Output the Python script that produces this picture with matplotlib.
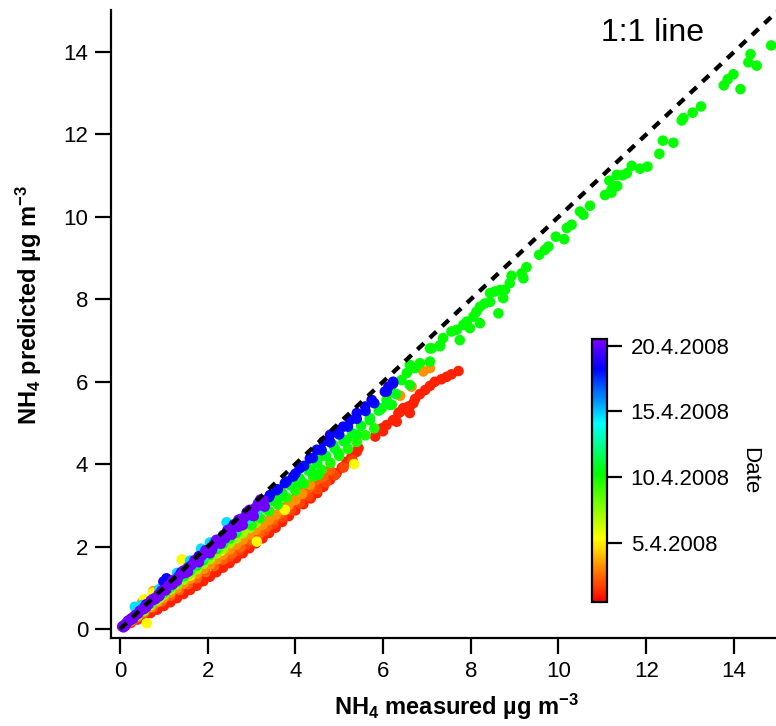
import numpy as np
import matplotlib
matplotlib.use("Agg")
import matplotlib.pyplot as plt
from matplotlib.colors import LinearSegmentedColormap, Normalize

plt.rcParams['font.family'] = ['Liberation Sans', 'DejaVu Sans']
plt.rcParams['mathtext.fontset'] = 'custom'
plt.rcParams['mathtext.rm'] = 'Liberation Sans:bold'
plt.rcParams['mathtext.it'] = 'Liberation Sans:bold'
plt.rcParams['mathtext.bf'] = 'Liberation Sans:bold'
plt.rcParams['mathtext.sf'] = 'Liberation Sans:bold'

# NH4 measured vs predicted (ug m-3), grouped by sampling day in April 2008
red_day = 1.2
red_meas = [0.10, 0.25, 0.40, 0.55, 0.70, 0.85, 1.00, 1.15, 1.30, 1.45, 1.60, 1.75, 1.90, 2.05,
            2.20, 2.35, 2.50, 2.65, 2.80, 2.95, 3.10, 3.25, 3.40, 3.55, 3.70, 3.85, 4.00, 4.18,
            4.35, 4.50, 4.64, 4.79, 4.94, 5.06, 5.17, 5.28, 5.40, 5.44, 5.82, 5.97, 6.00, 6.08,
            6.23, 6.31, 6.35, 6.39, 6.46, 6.58, 6.61, 6.61, 6.69, 6.73, 6.84, 6.96, 7.07, 7.18,
            7.33, 7.45, 7.56, 7.72]
red_pred = [0.07, 0.15, 0.23, 0.31, 0.39, 0.47, 0.56, 0.65, 0.75, 0.85, 0.95, 1.05, 1.16, 1.27,
            1.38, 1.49, 1.60, 1.72, 1.84, 1.96, 2.08, 2.20, 2.33, 2.46, 2.60, 2.74, 2.88, 3.03,
            3.17, 3.30, 3.45, 3.62, 3.78, 3.92, 4.06, 4.18, 4.30, 4.39, 4.67, 4.87, 4.80, 4.95,
            5.07, 5.03, 5.24, 5.27, 5.36, 5.40, 5.24, 5.40, 5.48, 5.58, 5.70, 5.80, 5.90, 6.00,
            6.06, 6.12, 6.18, 6.26]

red2_day = 1.8
red2_meas = [2.50, 2.70, 2.90, 3.10, 3.30, 3.50, 3.70, 3.90, 4.10, 4.30, 4.50, 4.70, 4.90,
             5.10, 5.30]
red2_pred = [1.75, 1.90, 2.06, 2.22, 2.38, 2.55, 2.71, 2.88, 3.05, 3.22, 3.39, 3.56, 3.73,
             3.92, 4.10]

redorange_day = 2.3
redorange_meas = [0.15, 0.35, 0.55, 0.75, 0.95, 1.15, 1.35, 1.55, 1.75, 1.95, 2.15, 2.35, 2.55,
                  2.75, 2.96, 3.19, 3.35, 3.50, 3.65, 3.80, 3.95, 4.07, 4.22, 4.33, 4.49, 4.64, 4.79]
redorange_pred = [0.10, 0.25, 0.39, 0.53, 0.67, 0.81, 0.95, 1.09, 1.23, 1.38, 1.53, 1.68, 1.83,
                  1.98, 2.16, 2.32, 2.48, 2.65, 2.81, 2.97, 3.13, 3.25, 3.37, 3.45, 3.62, 3.70, 3.86]

orange_day = 3.3
orange_meas = [0.10, 0.25, 0.40, 0.55, 0.70, 0.85, 1.00, 1.15, 1.30, 1.45, 1.60, 1.75, 1.90,
               2.05, 2.20, 2.35, 2.50, 2.65, 2.80, 2.95, 3.10, 3.25, 3.40, 3.55, 3.70, 3.85,
               4.00, 4.15, 4.33, 0.50, 0.76, 6.39, 6.65, 6.92, 7.07]
orange_pred = [0.08, 0.19, 0.30, 0.42, 0.53, 0.65, 0.76, 0.88, 0.99, 1.11, 1.22, 1.34, 1.46,
               1.57, 1.69, 1.81, 1.93, 2.05, 2.17, 2.29, 2.41, 2.53, 2.65, 2.77, 2.89, 3.01,
               3.13, 3.28, 3.50, 0.64, 0.92, 5.66, 5.88, 6.25, 6.33]

yellow_day = 5.2
yellow_meas = [0.30, 0.55, 0.75, 0.90, 1.60, 2.30, 0.61, 1.41, 3.12, 3.76, 5.34]
yellow_pred = [0.27, 0.72, 0.88, 0.76, 1.30, 1.90, 0.14, 1.69, 2.12, 2.89, 4.00]

lime_day = 7.3
lime_meas = [0.10, 0.25, 0.40, 0.55, 0.70, 0.85, 1.00, 1.15, 1.30, 1.45, 1.60, 1.75, 1.90,
             2.05, 2.20, 2.35, 2.50, 2.65, 2.80, 2.95, 3.10]
lime_pred = [0.08, 0.21, 0.33, 0.45, 0.58, 0.70, 0.83, 0.95, 1.08, 1.20, 1.33, 1.45, 1.58,
             1.70, 1.83, 1.95, 2.08, 2.20, 2.33, 2.45, 2.58]

green2_day = 9.8
green2_meas = [3.00, 3.20, 3.40, 3.60, 3.80, 4.00, 4.20, 4.40, 4.60, 4.80, 5.00, 5.20, 5.40,
               5.60, 5.80]
green2_pred = [2.52, 2.69, 2.86, 3.02, 3.19, 3.36, 3.53, 3.70, 3.86, 4.03, 4.20, 4.37, 4.54,
               4.70, 4.87]

green_day = 10.2
green_meas = [0.10, 0.25, 0.40, 0.55, 0.70, 0.85, 1.00, 1.15, 1.30, 1.45, 1.60, 1.75, 1.90,
              2.05, 2.20, 2.35, 2.50, 2.65, 2.89, 3.12,
              3.35, 3.57, 3.60, 3.80, 4.03, 4.10, 4.26, 4.35, 4.52, 4.56, 4.86, 4.98, 5.17,
              5.40, 5.70, 5.93, 5.97, 6.08, 6.16, 6.20, 6.20, 6.42, 6.54, 6.61, 6.61, 6.73,
              6.84, 7.07, 7.07, 7.11, 7.30, 7.30, 7.37, 7.56, 7.68, 7.75, 7.83, 7.91, 7.98,
              8.06, 8.13, 8.21, 8.21, 8.32, 8.44, 8.44, 8.55, 8.63, 8.67, 8.74, 8.78, 8.89,
              8.93, 9.16, 9.20, 9.27, 9.56, 9.69, 9.77, 9.94, 10.13, 10.19, 10.30, 10.49,
              10.57, 10.72, 11.06, 11.16, 11.21, 11.21, 11.33, 11.34, 11.46, 11.56, 11.67,
              11.86, 12.03, 12.30, 12.38, 12.62, 12.81, 12.85, 13.06, 13.25, 13.77, 13.86,
              13.99, 14.15, 14.33, 14.38, 14.52, 14.85]
green_pred = [0.09, 0.22, 0.35, 0.48, 0.62, 0.75, 0.88, 1.01, 1.14, 1.28, 1.41, 1.54, 1.67,
              1.80, 1.94, 2.07, 2.20, 2.33, 2.57, 2.81,
              3.05, 3.29, 3.15, 3.54, 3.70, 3.55, 3.94, 3.85, 3.74, 4.18, 4.47, 4.27, 4.59,
              4.71, 5.07, 5.32, 5.36, 5.56, 5.44, 5.76, 5.44, 6.04, 6.21, 5.92, 6.41, 6.33,
              6.45, 6.49, 6.81, 6.81, 6.86, 6.89, 7.06, 7.22, 7.26, 7.01, 7.38, 7.46, 7.30,
              7.58, 7.70, 7.82, 7.42, 7.90, 7.94, 8.15, 8.19, 7.66, 8.23, 8.03, 8.23, 8.39,
              8.57, 8.63, 8.51, 8.78, 9.08, 9.20, 9.28, 9.52, 9.46, 9.73, 9.81, 10.13,
              10.05, 10.27, 10.53, 10.88, 10.59, 10.66, 11.02, 10.75, 11.01, 11.06, 11.24,
              11.17, 11.22, 11.53, 11.85, 11.80, 12.34, 12.40, 12.53, 12.68, 13.19, 13.34,
              13.46, 13.10, 13.75, 13.95, 13.67, 14.16]

green3_day = 10.6
green3_meas = [3.10, 3.30, 3.50, 3.70, 3.90, 4.10, 4.30, 4.50, 4.70, 4.90, 5.10, 5.30, 5.50,
               5.70, 5.90, 6.10, 6.30]
green3_pred = [2.76, 2.94, 3.12, 3.30, 3.48, 3.66, 3.84, 4.02, 4.20, 4.38, 4.56, 4.75, 4.93,
               5.12, 5.30, 5.50, 5.70]

spring_day = 12.5
spring_meas = [0.10, 0.25, 0.40, 0.55, 0.70, 0.85, 1.00, 1.15, 1.30, 1.45, 1.60, 1.75, 1.90,
               2.05, 2.20, 2.35, 2.50, 2.65, 2.80, 2.95, 3.10, 3.25]
spring_pred = [0.09, 0.23, 0.36, 0.50, 0.64, 0.77, 0.91, 1.05, 1.18, 1.32, 1.46, 1.59, 1.73,
               1.87, 2.00, 2.14, 2.28, 2.41, 2.55, 2.68, 2.82, 2.96]

cyan_day = 14.6
cyan_meas = [0.10, 0.30, 0.50, 0.70, 0.90, 1.10, 1.30, 1.50, 1.70, 1.90, 2.10, 2.30, 2.50,
             2.70, 2.90, 3.10, 0.34, 0.50, 0.90, 1.30, 1.60, 1.85, 2.05, 2.43]
cyan_pred = [0.09, 0.28, 0.47, 0.65, 0.84, 1.03, 1.22, 1.40, 1.59, 1.78, 1.96, 2.15, 2.34,
             2.52, 2.71, 2.90, 0.54, 0.58, 0.97, 1.36, 1.66, 1.95, 2.10, 2.59]

azure_day = 16.5
azure_meas = [0.15, 0.35, 0.55, 0.75, 0.95, 1.15, 1.35, 1.55, 1.75, 1.95, 2.15, 2.35, 2.55,
              2.75, 2.95, 3.15]
azure_pred = [0.15, 0.34, 0.53, 0.73, 0.92, 1.12, 1.31, 1.50, 1.70, 1.89, 2.09, 2.28, 2.47,
              2.67, 2.86, 3.06]

blue2_day = 18.0
blue2_meas = [3.00, 3.20, 3.40, 3.60, 3.80, 4.00, 4.20, 4.40, 4.60, 4.80, 5.00, 5.20, 5.40,
              5.60, 5.80]
blue2_pred = [2.83, 3.01, 3.20, 3.39, 3.58, 3.77, 3.96, 4.15, 4.34, 4.53, 4.72, 4.91, 5.10,
              5.29, 5.48]

blue_day = 18.4
blue_meas = [0.25, 0.60, 0.99, 1.06, 1.40, 1.80, 2.20, 2.60, 2.89, 3.19, 3.42, 3.57, 3.76,
             3.95, 4.10, 4.33, 4.49, 4.64, 4.79, 4.94, 5.09, 5.25, 5.40, 5.59, 5.74, 6.04,
             6.08, 6.12, 6.23, 6.23]
blue_pred = [0.25, 0.60, 1.15, 1.23, 1.38, 1.77, 2.16, 2.54, 2.83, 3.05, 3.25, 3.37, 3.54,
             3.70, 3.90, 4.14, 4.35, 4.55, 4.71, 4.83, 4.91, 5.07, 5.24, 5.40, 5.56, 5.76,
             5.76, 5.88, 5.96, 6.00]

purple_day = 20.2
purple_meas = [0.05, 0.08, 0.10, 0.12, 0.15, 0.18, 0.20, 0.25, 0.30, 0.30, 0.35, 0.42, 0.50,
               0.58, 0.60, 0.65, 0.72, 0.80, 0.88, 0.90, 0.95, 1.02, 1.10, 1.18, 1.20, 1.25,
               1.33, 1.40, 1.48, 1.50, 1.55, 1.63, 1.70, 1.78, 1.80, 1.86, 1.93, 2.00, 2.08,
               2.10, 2.16, 2.23, 2.30, 2.38, 2.40, 2.46, 2.53, 2.60, 2.68, 2.70, 2.76, 2.83,
               2.90, 2.98, 3.00, 3.06, 3.13, 3.20, 3.28,
               0.20, 0.45, 0.70, 0.95, 1.20, 1.45, 1.70, 1.95, 2.20, 2.45, 2.70, 2.95, 3.20,
               0.30, 0.55, 0.80, 1.05, 1.30, 1.55, 1.80, 2.05, 2.30, 2.55, 2.80, 3.05, 3.30]
purple_pred = [0.06, 0.04, 0.10, 0.08, 0.13, 0.20, 0.19, 0.22, 0.29, 0.25, 0.33, 0.38, 0.47,
               0.55, 0.53, 0.60, 0.69, 0.75, 0.84, 0.80, 0.90, 0.96, 1.05, 1.11, 1.08, 1.19,
               1.26, 1.33, 1.41, 1.36, 1.47, 1.55, 1.62, 1.69, 1.64, 1.77, 1.84, 1.90, 1.98,
               1.92, 2.05, 2.12, 2.19, 2.26, 2.20, 2.34, 2.41, 2.48, 2.56, 2.48, 2.63, 2.70,
               2.77, 2.85, 2.76, 2.92, 2.99, 3.06, 3.12,
               0.20, 0.44, 0.69, 0.93, 1.18, 1.42, 1.67, 1.91, 2.16, 2.40, 2.65, 2.89, 3.14,
               0.26, 0.49, 0.72, 0.94, 1.17, 1.39, 1.62, 1.84, 2.07, 2.29, 2.52, 2.74, 2.97]

groups = [
    (red_day, red_meas, red_pred),
    (red2_day, red2_meas, red2_pred),
    (redorange_day, redorange_meas, redorange_pred),
    (orange_day, orange_meas, orange_pred),
    (yellow_day, yellow_meas, yellow_pred),
    (lime_day, lime_meas, lime_pred),
    (green2_day, green2_meas, green2_pred),
    (green_day, green_meas, green_pred),
    (green3_day, green3_meas, green3_pred),
    (spring_day, spring_meas, spring_pred),
    (cyan_day, cyan_meas, cyan_pred),
    (azure_day, azure_meas, azure_pred),
    (blue2_day, blue2_meas, blue2_pred),
    (blue_day, blue_meas, blue_pred),
    (purple_day, purple_meas, purple_pred),
]

cbar_tick_days = [5, 10, 15, 20]
cbar_tick_labels = ["5.4.2008", "10.4.2008", "15.4.2008", "20.4.2008"]
axis_ticks = [0, 2, 4, 6, 8, 10, 12, 14]

measured = np.concatenate([np.asarray(m, float) for _, m, _ in groups])
predicted = np.concatenate([np.asarray(p, float) for _, _, p in groups])
dates = np.concatenate([np.full(len(m), d) for d, m, _ in groups])

date_cmap = LinearSegmentedColormap.from_list(
    "date_rainbow",
    [(0.00, (1.0, 0.0, 0.0)),
     (0.12, (1.0, 0.5, 0.0)),
     (0.24, (1.0, 1.0, 0.0)),
     (0.49, (0.0, 1.0, 0.0)),
     (0.68, (0.0, 1.0, 1.0)),
     (0.89, (0.0, 0.0, 1.0)),
     (1.00, (0.5, 0.0, 1.0))])
norm = Normalize(vmin=0.5, vmax=20.5)

fig = plt.figure(figsize=(7.76, 7.26), dpi=100)
ax = fig.add_axes([0.1430, 0.1212, 0.8570, 0.8650])

sc = ax.scatter(measured, predicted, c=dates, cmap=date_cmap, norm=norm,
                s=58, linewidths=0, zorder=2)
ax.plot([0, 15], [0, 15], color="black", lw=3.1, dashes=(2.1, 1.85), zorder=3)

ax.set_xlim(-0.205, 14.96)
ax.set_ylim(-0.218, 15.02)
ax.set_xticks(axis_ticks)
ax.set_yticks(axis_ticks)
for side in ("top", "right"):
    ax.spines[side].set_visible(False)
for side in ("left", "bottom"):
    ax.spines[side].set_linewidth(1.6)
ax.tick_params(direction="out", length=11.5, width=1.6, labelsize=16, pad=5)

ax.set_xlabel("NH$_4$ measured µg m$^{-3}$", fontsize=17, fontweight="bold")
ax.set_ylabel("NH$_4$ predicted µg m$^{-3}$", fontsize=17, fontweight="bold")
ax.xaxis.set_label_coords(0.519, -0.086)
ax.yaxis.set_label_coords(-0.100, 0.530)

ax.text(10.97, 14.26, "1:1 line", fontsize=23, ha="left", va="baseline")

cax = fig.add_axes([592 / 776, 1 - 602 / 726, 15 / 776, 263 / 726])
cb = fig.colorbar(sc, cax=cax)
cb.set_ticks(cbar_tick_days)
cb.set_ticklabels(cbar_tick_labels)
cb.outline.set_linewidth(1.6)
cb.ax.tick_params(direction="out", length=11, width=1.6, labelsize=16, pad=6)
cb.set_label("Date", rotation=270, fontsize=16, labelpad=22)

fig.savefig("out.png", dpi=100)
